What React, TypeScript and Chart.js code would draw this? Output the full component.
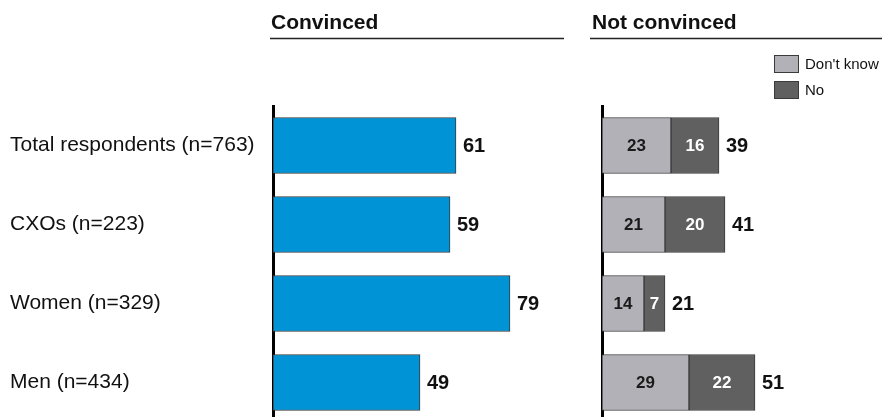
import React, { useEffect, useRef } from 'react';
import { Chart, registerables } from 'chart.js';

Chart.register(...registerables);

const categories = ['Total respondents (n=763)', 'CXOs (n=223)', 'Women (n=329)', 'Men (n=434)'];
const convinced = [61, 59, 79, 49];
const dontKnow = [23, 21, 14, 29];
const no = [16, 20, 7, 22];
const notConvincedTotal = [39, 41, 21, 51];
const headings = ['Convinced', 'Not convinced'];
const legendLabels = ["Don't know", 'No'];

const FONT = "'Liberation Sans', Arial, Helvetica, sans-serif";
const BLUE = '#0093D6';
const LIGHT = '#B2B1B7';
const DARK = '#606060';
const EDGE = '#3a3a3a';

const panelPlugin = {
  id: 'panelDecor',
  afterDatasetsDraw(chart: any, _args: any, opts: any) {
    const ctx = chart.ctx as CanvasRenderingContext2D;
    ctx.save();
    ctx.textBaseline = 'middle';
    const metas = chart.data.datasets.map((_: any, i: number) => chart.getDatasetMeta(i));
    if (opts.mode === 'single') {
      metas[0].data.forEach((el: any, i: number) => {
        ctx.font = `bold 20px ${FONT}`;
        ctx.fillStyle = '#111';
        ctx.textAlign = 'left';
        ctx.fillText(String(convinced[i]), el.x + 7, el.y + 1);
      });
    } else {
      metas.forEach((meta: any, d: number) => {
        meta.data.forEach((el: any, i: number) => {
          const v = chart.data.datasets[d].data[i];
          ctx.font = `bold 17px ${FONT}`;
          ctx.fillStyle = d === 0 ? '#1a1a1a' : '#ffffff';
          ctx.textAlign = 'center';
          ctx.fillText(String(v), (el.x + el.base) / 2, el.y + 1);
        });
      });
      const last = metas[metas.length - 1];
      last.data.forEach((el: any, i: number) => {
        ctx.font = `bold 20px ${FONT}`;
        ctx.fillStyle = '#111';
        ctx.textAlign = 'left';
        ctx.fillText(String(notConvincedTotal[i]), el.x + 7, el.y + 1);
      });
    }
    ctx.restore();
  },
  afterDraw(chart: any, _args: any, opts: any) {
    const ctx = chart.ctx as CanvasRenderingContext2D;
    ctx.save();
    ctx.font = `bold 21px ${FONT}`;
    ctx.fillStyle = '#111';
    ctx.textAlign = 'left';
    ctx.textBaseline = 'alphabetic';
    ctx.fillText(opts.heading, opts.headingX, 29);
    ctx.strokeStyle = '#222';
    ctx.lineWidth = 1.5;
    ctx.beginPath();
    ctx.moveTo(opts.lineX0, 38.5);
    ctx.lineTo(opts.lineX1, 38.5);
    ctx.stroke();
    if (opts.legend) {
      const colors = [LIGHT, DARK];
      legendLabels.forEach((lab, i) => {
        const y = 55 + i * 26;
        ctx.fillStyle = colors[i];
        ctx.fillRect(opts.legendX, y, 25, 18);
        ctx.strokeStyle = EDGE;
        ctx.lineWidth = 1;
        ctx.strokeRect(opts.legendX + 0.5, y + 0.5, 24, 17);
        ctx.fillStyle = '#111';
        ctx.font = `15px ${FONT}`;
        ctx.textBaseline = 'middle';
        ctx.fillText(lab, opts.legendX + 31, y + 9.5);
      });
    }
    ctx.restore();
  },
};

export default function App() {
  const leftRef = useRef<HTMLCanvasElement>(null);
  const rightRef = useRef<HTMLCanvasElement>(null);

  useEffect(() => {
    const barCommon = {
      borderWidth: 1,
      borderColor: EDGE,
      borderSkipped: false,
      barThickness: 56,
    };
    const left = new Chart(leftRef.current!, {
      type: 'bar',
      data: {
        labels: categories,
        datasets: [{ label: headings[0], data: convinced, backgroundColor: BLUE, ...barCommon } as any],
      },
      options: {
        indexAxis: 'y',
        animation: false,
        responsive: true,
        maintainAspectRatio: false,
        layout: { padding: { left: 10, top: 106, right: 17, bottom: 0 } },
        scales: {
          x: { display: false, min: 0, max: 100 },
          y: {
            grid: { display: false },
            border: { display: true, color: '#000', width: 3 },
            ticks: { crossAlign: 'far', color: '#111', font: { family: FONT, size: 21 }, padding: 0 },
            afterFit(scale: any) {
              scale.width = 263;
              scale.paddingTop = 0;
              scale.paddingBottom = 0;
            },
          } as any,
        },
        plugins: {
          legend: { display: false },
          tooltip: { enabled: false },
          panelDecor: { mode: 'single', heading: headings[0], headingX: 271, lineX0: 270, lineX1: 564 },
        } as any,
      },
      plugins: [panelPlugin as any],
    });

    const right = new Chart(rightRef.current!, {
      type: 'bar',
      data: {
        labels: categories,
        datasets: [
          { label: legendLabels[0], data: dontKnow, backgroundColor: LIGHT, ...barCommon } as any,
          { label: legendLabels[1], data: no, backgroundColor: DARK, ...barCommon } as any,
        ],
      },
      options: {
        indexAxis: 'y',
        animation: false,
        responsive: true,
        maintainAspectRatio: false,
        layout: { padding: { left: 0, top: 106, right: 10, bottom: 0 } },
        scales: {
          x: { display: false, min: 0, max: 90, stacked: true },
          y: {
            stacked: true,
            grid: { display: false },
            border: { display: true, color: '#000', width: 3 },
            ticks: { display: false },
            afterFit(scale: any) {
              scale.width = 12;
            },
          } as any,
        },
        plugins: {
          legend: { display: false },
          tooltip: { enabled: false },
          panelDecor: { mode: 'stack', heading: headings[1], headingX: 2, lineX0: 0, lineX1: 292, legend: true, legendX: 184 },
        } as any,
      },
      plugins: [panelPlugin as any],
    });

    return () => {
      left.destroy();
      right.destroy();
    };
  }, []);

  return (
    <div style={{ position: 'absolute', left: 0, top: 0, width: 882, height: 417, overflow: 'hidden', background: '#fff' }}>
      <div style={{ position: 'absolute', left: 0, top: 0, width: 590, height: 422 }}>
        <canvas ref={leftRef} />
      </div>
      <div style={{ position: 'absolute', left: 590, top: 0, width: 292, height: 422 }}>
        <canvas ref={rightRef} />
      </div>
    </div>
  );
}
